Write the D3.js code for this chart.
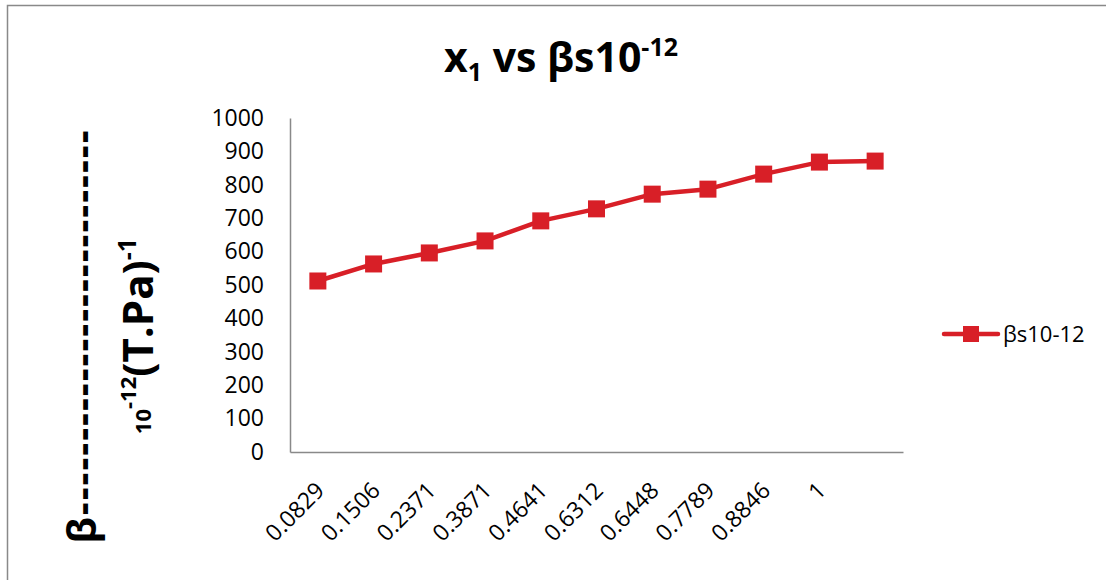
<!DOCTYPE html>
<html>
<head>
<meta charset="utf-8">
<script src="https://cdn.jsdelivr.net/npm/d3@7"></script>
<style>
  html, body { margin: 0; padding: 0; background: #fff; }
  svg { display: block; font-family: "Open Sans", "Noto Sans", sans-serif; }
</style>
</head>
<body>
<svg id="chart" width="1106" height="580"></svg>
<script>
// Mole fraction x1 (category labels; last point carries no label)
const categories = ["0.0829", "0.1506", "0.2371", "0.3871", "0.4641", "0.6312", "0.6448", "0.7789", "0.8846", "1", ""];
// Isentropic compressibility βs ×10^-12 (T.Pa)^-1
const betaValues = [512, 563, 596, 632, 692, 728, 772, 787, 832, 868, 871];
const yTicks = [0, 100, 200, 300, 400, 500, 600, 700, 800, 900, 1000];
const seriesName = "βs10-12";

const svg = d3.select("#chart");
const W = 1106, H = 580;
const plot = { left: 290, right: 903, top: 118, bottom: 452 };
const red = "#d81f27";
const grey = "#898989";

svg.append("rect").attr("width", W).attr("height", H).attr("fill", "#fff");
// chart border
svg.append("rect")
  .attr("x", 7.5).attr("y", 5.5).attr("width", 1300).attr("height", 800)
  .attr("fill", "none").attr("stroke", grey).attr("stroke-width", 1.5);

const x = d3.scaleBand()
  .domain(d3.range(categories.length))
  .range([plot.left, plot.right]);
const y = d3.scaleLinear().domain([0, 1000]).range([plot.bottom, plot.top]);

// y axis
const yAxis = svg.append("g")
  .attr("transform", `translate(${plot.left},0)`)
  .call(d3.axisLeft(y).tickValues(yTicks).tickFormat(d3.format("d")).tickSize(0).tickPadding(26));
yAxis.select(".domain").attr("stroke", grey).attr("stroke-width", 1.5);
yAxis.selectAll("text")
  .attr("font-size", 23).attr("fill", "#000")
  .attr("font-family", "'Open Sans', sans-serif");

// x axis
const xAxis = svg.append("g")
  .attr("transform", `translate(0,${plot.bottom})`)
  .call(d3.axisBottom(x).tickFormat(i => categories[i]).tickSize(0).tickPadding(0));
xAxis.select(".domain").attr("stroke", grey).attr("stroke-width", 1.5);
xAxis.selectAll("text")
  .attr("font-size", 23).attr("fill", "#000")
  .attr("font-family", "'Open Sans', sans-serif")
  .attr("text-anchor", "end")
  .attr("dy", 0).attr("y", 0)
  .attr("transform", "translate(8,40) rotate(-45)");

// series line
const cx = i => x(i) + x.bandwidth() / 2;
svg.append("path")
  .datum(betaValues)
  .attr("fill", "none").attr("stroke", red).attr("stroke-width", 4.5)
  .attr("stroke-linejoin", "round")
  .attr("d", d3.line().x((d, i) => cx(i)).y(d => y(d)));

const ms = 17;
svg.append("g").selectAll("rect")
  .data(betaValues)
  .join("rect")
  .attr("x", (d, i) => cx(i) - ms / 2)
  .attr("y", d => y(d) - ms / 2)
  .attr("width", ms).attr("height", ms)
  .attr("fill", red);

// title
const title = svg.append("text")
  .attr("x", 561).attr("y", 72)
  .attr("text-anchor", "middle")
  .attr("font-weight", "bold").attr("font-size", 41).attr("fill", "#000");
title.append("tspan").text("x");
title.append("tspan").attr("font-size", 25).attr("dy", 9).text("1");
title.append("tspan").attr("dy", -9).text(" vs βs10");
title.append("tspan").attr("font-size", 25).attr("dy", -16).text("-12");

// y axis title (two lines, rotated)
const yt = svg.append("g").attr("transform", "translate(0,336) rotate(-90)");
yt.append("text")
  .attr("x", 0).attr("y", 96)
  .attr("text-anchor", "middle")
  .attr("font-weight", "bold").attr("font-size", 40).attr("fill", "#000")
  .attr("letter-spacing", 2)
  .text("β--------------------------");
const l2 = yt.append("text")
  .attr("x", 0).attr("y", 153)
  .attr("text-anchor", "middle")
  .attr("font-weight", "bold").attr("font-size", 42).attr("fill", "#000");
l2.append("tspan").attr("font-size", 22).attr("dy", -2).text("10");
l2.append("tspan").attr("font-size", 22).attr("dy", -15).text("-12");
l2.append("tspan").attr("dy", 17).text("(T.Pa)");
l2.append("tspan").attr("font-size", 25).attr("dy", -17).text("-1");

// legend
const lg = svg.append("g").attr("transform", "translate(944,334)");
lg.append("line").attr("x1", 0).attr("x2", 54).attr("y1", 0).attr("y2", 0)
  .attr("stroke", red).attr("stroke-width", 4.5).attr("stroke-linecap", "round");
lg.append("rect").attr("x", 27 - 8).attr("y", -8).attr("width", 16).attr("height", 16).attr("fill", red);
lg.append("text").attr("x", 59).attr("y", 8)
  .attr("font-size", 22).attr("fill", "#000").text(seriesName);
</script>
</body>
</html>
